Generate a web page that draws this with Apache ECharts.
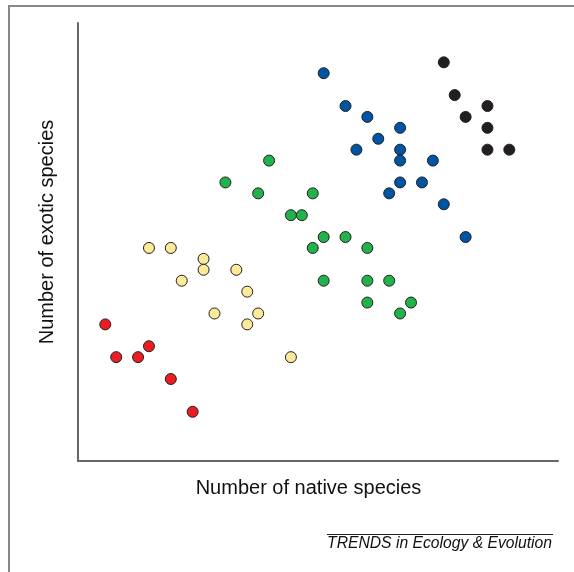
<!DOCTYPE html>
<html>
<head>
<meta charset="utf-8">
<script src="https://cdn.jsdelivr.net/npm/echarts@6/dist/echarts.min.js"></script>
<style>
html,body{margin:0;padding:0;background:#fff;}
#chart{width:574px;height:572px;}
</style>
</head>
<body>
<div id="chart"></div>
<script>
// [native species, exotic species]
const redPoints = [[3,13],[4,10],[6,10],[7,11],[9,8],[11,5]];
const yellowPoints = [[7,20],[9,20],[12,19],[12,18],[15,18],[10,17],[16,16],[13,14],[17,14],[16,13],[20,10]];
const greenPoints = [[18,28],[14,26],[17,25],[22,25],[20,23],[21,23],[23,21],[25,21],[22,20],[27,20],[23,17],[27,17],[29,17],[27,15],[31,15],[30,14]];
const bluePoints = [[23,36],[25,33],[27,32],[30,31],[28,30],[26,29],[30,29],[30,28],[33,28],[30,26],[32,26],[29,25],[34,24],[36,21]];
const blackPoints = [[34,37],[35,34],[38,33],[36,32],[38,31],[38,29],[40,29]];

const xTitle = 'Number of native species';
const yTitle = 'Number of exotic species';
const footer = 'TRENDS in Ecology & Evolution';

const chart = echarts.init(document.getElementById('chart'), null, {renderer:'canvas'});
const font = '"Liberation Sans", Arial, Helvetica, sans-serif';
function series(data, color){
  return {
    type:'scatter', data:data, symbol:'circle', symbolSize:11,
    itemStyle:{color:color, borderColor:'#231f20', borderWidth:1, opacity:1},
    emphasis:{disabled:true}, silent:true
  };
}
chart.setOption({
  animation:false,
  backgroundColor:'#fff',
  grid:{left:78, top:23, right:16, bottom:111, containLabel:false},
  xAxis:{
    type:'value', min:0.5, max:44.46,
    axisLine:{show:true, lineStyle:{color:'#666', width:2}},
    axisTick:{show:false}, axisLabel:{show:false}, splitLine:{show:false}
  },
  yAxis:{
    type:'value', min:0.49, max:40.6,
    axisLine:{show:true, lineStyle:{color:'#666', width:2}},
    axisTick:{show:false}, axisLabel:{show:false}, splitLine:{show:false}
  },
  series:[
    series(redPoints,'#ec1c24'),
    series(yellowPoints,'#fde99a'),
    series(greenPoints,'#22b24c'),
    series(bluePoints,'#0054a4'),
    series(blackPoints,'#231f20')
  ],
  graphic:[
    {type:'line', shape:{x1:9, y1:6, x2:9, y2:572}, style:{stroke:'#888', lineWidth:2}, silent:true},
    {type:'line', shape:{x1:8, y1:6, x2:574, y2:6}, style:{stroke:'#888', lineWidth:2}, silent:true},
    {type:'text', x:308.5, y:488, style:{text:xTitle, fontFamily:font, fontSize:20, fill:'#111', textAlign:'center', textVerticalAlign:'middle'}, silent:true},
    {type:'text', x:47, y:232, rotation:Math.PI/2, style:{text:yTitle, fontFamily:font, fontSize:20, fill:'#111', textAlign:'center', textVerticalAlign:'middle'}, silent:true},
    {type:'line', shape:{x1:327, y1:534.5, x2:553, y2:534.5}, style:{stroke:'#222', lineWidth:1}, silent:true},
    {type:'text', x:552, y:544, style:{text:footer, fontFamily:font, fontStyle:'italic', fontSize:15.7, fill:'#111', textAlign:'right', textVerticalAlign:'middle'}, silent:true}
  ]
});
</script>
</body>
</html>
